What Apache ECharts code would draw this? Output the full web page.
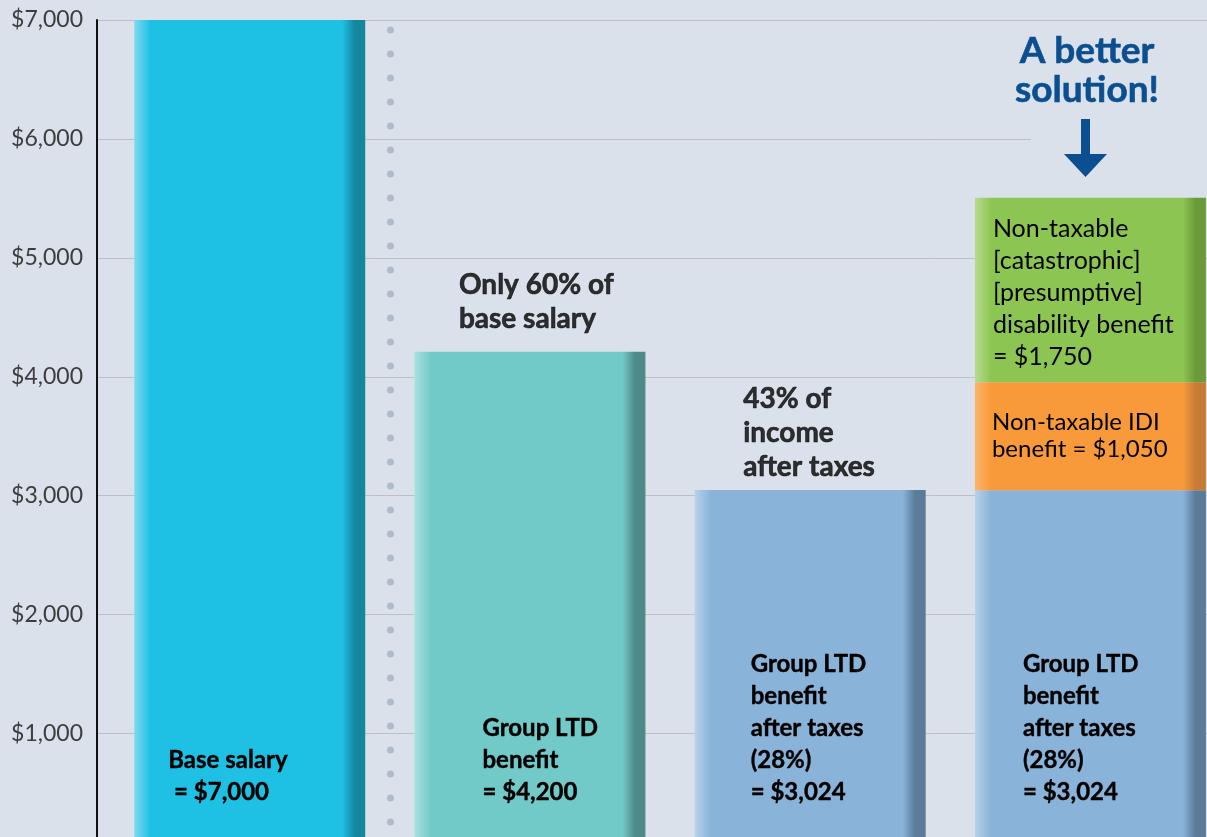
<!DOCTYPE html>
<html>
<head>
<meta charset="utf-8">
<title>Disability benefit comparison</title>
<script src="https://cdn.jsdelivr.net/npm/echarts@6/dist/echarts.min.js"></script>
<style>
  html, body { margin: 0; padding: 0; background: #dae1ea; }
  #chart { width: 1207px; height: 837px; }
</style>
</head>
<body>
<div id="chart"></div>
<script>
// values (bar heights as drawn)
const categories = ['Base salary', 'Group LTD benefit', 'Group LTD after taxes', 'A better solution'];
const baseValues = [7000, 4210, 3047, 3045];
const idiValues = ['-', '-', '-', 910];
const catastrophicValues = ['-', '-', '-', 1550];

const yMin = 0;
const yMax = 7000;
const yStep = 1000;

// texts
const baseLabels = [
  'Base salary\n = $7,000',
  'Group LTD\nbenefit\n= $4,200',
  'Group LTD\nbenefit\nafter taxes\n(28%)\n= $3,024',
  'Group LTD\nbenefit\nafter taxes\n(28%)\n= $3,024'
];
const topNotes = ['', 'Only 60% of\nbase salary', '43% of\nincome\nafter taxes', ''];
const idiLabel = 'Non-taxable IDI\nbenefit = $1,050';
const catastrophicLabel = 'Non-taxable\n[catastrophic]\n[presumptive]\ndisability benefit\n= $1,750';
const calloutText = 'A better\nsolution!';

// bar colours: [light edge, face, dark edge]
const baseColors = [
  ['#80d9f0', '#1ec1e3', '#14869e'],
  ['#a9e1e0', '#72cac8', '#4d8a89'],
  ['#b8d2ea', '#89b3d8', '#5b7b98'],
  ['#b8d2ea', '#89b3d8', '#5b7b98']
];
const idiColors = ['#fbb56a', '#f99a3a', '#c77b35'];
const catColors = ['#b9dc90', '#8dc552', '#6b9a3a'];

// label placement tweaks (px)
const baseLabelDx = [34, 68, 56, 48];
const noteOffsets = [null, [-71, -15], [-67, -6], null];

const font = 'Lato, "Noto Sans", sans-serif';

function bevel(c) {
  return {
    type: 'linear', x: 0, y: 0, x2: 1, y2: 0,
    colorStops: [
      { offset: 0, color: c[0] },
      { offset: 0.07, color: c[1] },
      { offset: 0.9, color: c[1] },
      { offset: 0.955, color: c[2] },
      { offset: 1, color: c[2] }
    ]
  };
}

const chart = echarts.init(document.getElementById('chart'));

// bar data is [value, position] so the stack runs on the value dimension
const barEncode = { x: 1, y: 0 };

const option = {
  backgroundColor: '#dae1ea',
  animation: false,
  grid: { left: 97, right: 0, top: 20, height: 832.5, containLabel: false, outerBoundsMode: 'none' },
  xAxis: {
    type: 'value',
    min: -0.545,
    max: 3.416,
    show: false
  },
  yAxis: {
    type: 'value',
    min: yMin,
    max: yMax,
    interval: yStep,
    axisLine: { show: true, onZero: false, lineStyle: { color: '#111', width: 2 } },
    axisTick: { show: false },
    axisLabel: {
      margin: 14,
      fontFamily: 'Lato',
      fontSize: 23,
      color: '#3d3d3d',
      formatter: v => '$' + v.toLocaleString('en-US')
    },
    splitLine: { lineStyle: { color: '#bcbfc3', width: 1 } }
  },
  series: [
    {
      name: 'Base',
      type: 'bar',
      stack: 'total',
      barWidth: 231,
      encode: barEncode,
      data: baseValues.map((v, i) => ({
        value: [v, i],
        name: categories[i],
        itemStyle: { color: bevel(baseColors[i]) },
        label: {
          show: true,
          position: 'insideBottomLeft',
          distance: 0,
          offset: [baseLabelDx[i], -44.5],
          formatter: baseLabels[i],
          fontFamily: font,
          fontWeight: 'bold',
          fontSize: 24,
          lineHeight: 32,
          color: '#000',
          textBorderColor: '#000',
          textBorderWidth: 0.4,
          align: 'left'
        }
      })),
      markLine: {
        silent: true,
        symbol: 'none',
        label: { show: false },
        lineStyle: {
          color: '#adbccc',
          width: 7,
          type: [0.1, 23.9],
          cap: 'round',
          dashOffset: 17.5
        },
        data: [{ xAxis: 0.5 }]
      }
    },
    {
      name: 'Non-taxable IDI',
      type: 'bar',
      stack: 'total',
      barWidth: 231,
      encode: barEncode,
      itemStyle: { color: bevel(idiColors) },
      label: {
        show: true,
        position: 'insideLeft',
        distance: 0,
        offset: [17, 0],
        formatter: idiLabel,
        fontFamily: font,
        fontSize: 24,
        lineHeight: 27,
        color: '#000'
      },
      data: idiValues.map((v, i) => [v, i])
    },
    {
      name: 'Non-taxable catastrophic',
      type: 'bar',
      stack: 'total',
      barWidth: 231,
      encode: barEncode,
      itemStyle: { color: bevel(catColors) },
      label: {
        show: true,
        position: 'insideLeft',
        distance: 0,
        offset: [18, 3],
        formatter: catastrophicLabel,
        fontFamily: font,
        fontSize: 25,
        lineHeight: 32,
        color: '#000'
      },
      data: catastrophicValues.map((v, i) => [v, i])
    },
    {
      name: 'Notes',
      type: 'scatter',
      symbolSize: 1,
      itemStyle: { color: 'rgba(0,0,0,0)' },
      z: 5,
      data: topNotes
        .map((t, i) => ({ t, i }))
        .filter(d => d.t)
        .map(d => ({
          value: [d.i, baseValues[d.i]],
          label: {
            show: true,
            position: 'top',
            distance: 0,
            align: 'left',
            offset: noteOffsets[d.i],
            formatter: d.t,
            fontFamily: font,
            fontWeight: 'bold',
            fontSize: 28,
            lineHeight: 34,
            color: '#000',
            textBorderColor: '#000',
            textBorderWidth: 0.6
          }
        }))
    }
  ],
  graphic: [
    {
      type: 'rect',
      z: 10,
      shape: { x: 1031, y: 28, width: 176, height: 155 },
      style: { fill: '#dae1ea' }
    },
    {
      type: 'text',
      z: 11,
      x: 1087,
      y: 32,
      style: {
        text: calloutText,
        fill: '#0b4f91',
        stroke: '#0b4f91',
        lineWidth: 0.6,
        font: 'bold 37px ' + font,
        lineHeight: 39,
        align: 'center',
        verticalAlign: 'top'
      }
    },
    {
      type: 'polygon',
      z: 11,
      shape: {
        points: [[1081, 119], [1090, 119], [1090, 154], [1107, 154], [1085.5, 177], [1064, 154], [1081, 154]]
      },
      style: { fill: '#0b4f91' }
    }
  ]
};

chart.setOption(option);
</script>
</body>
</html>
